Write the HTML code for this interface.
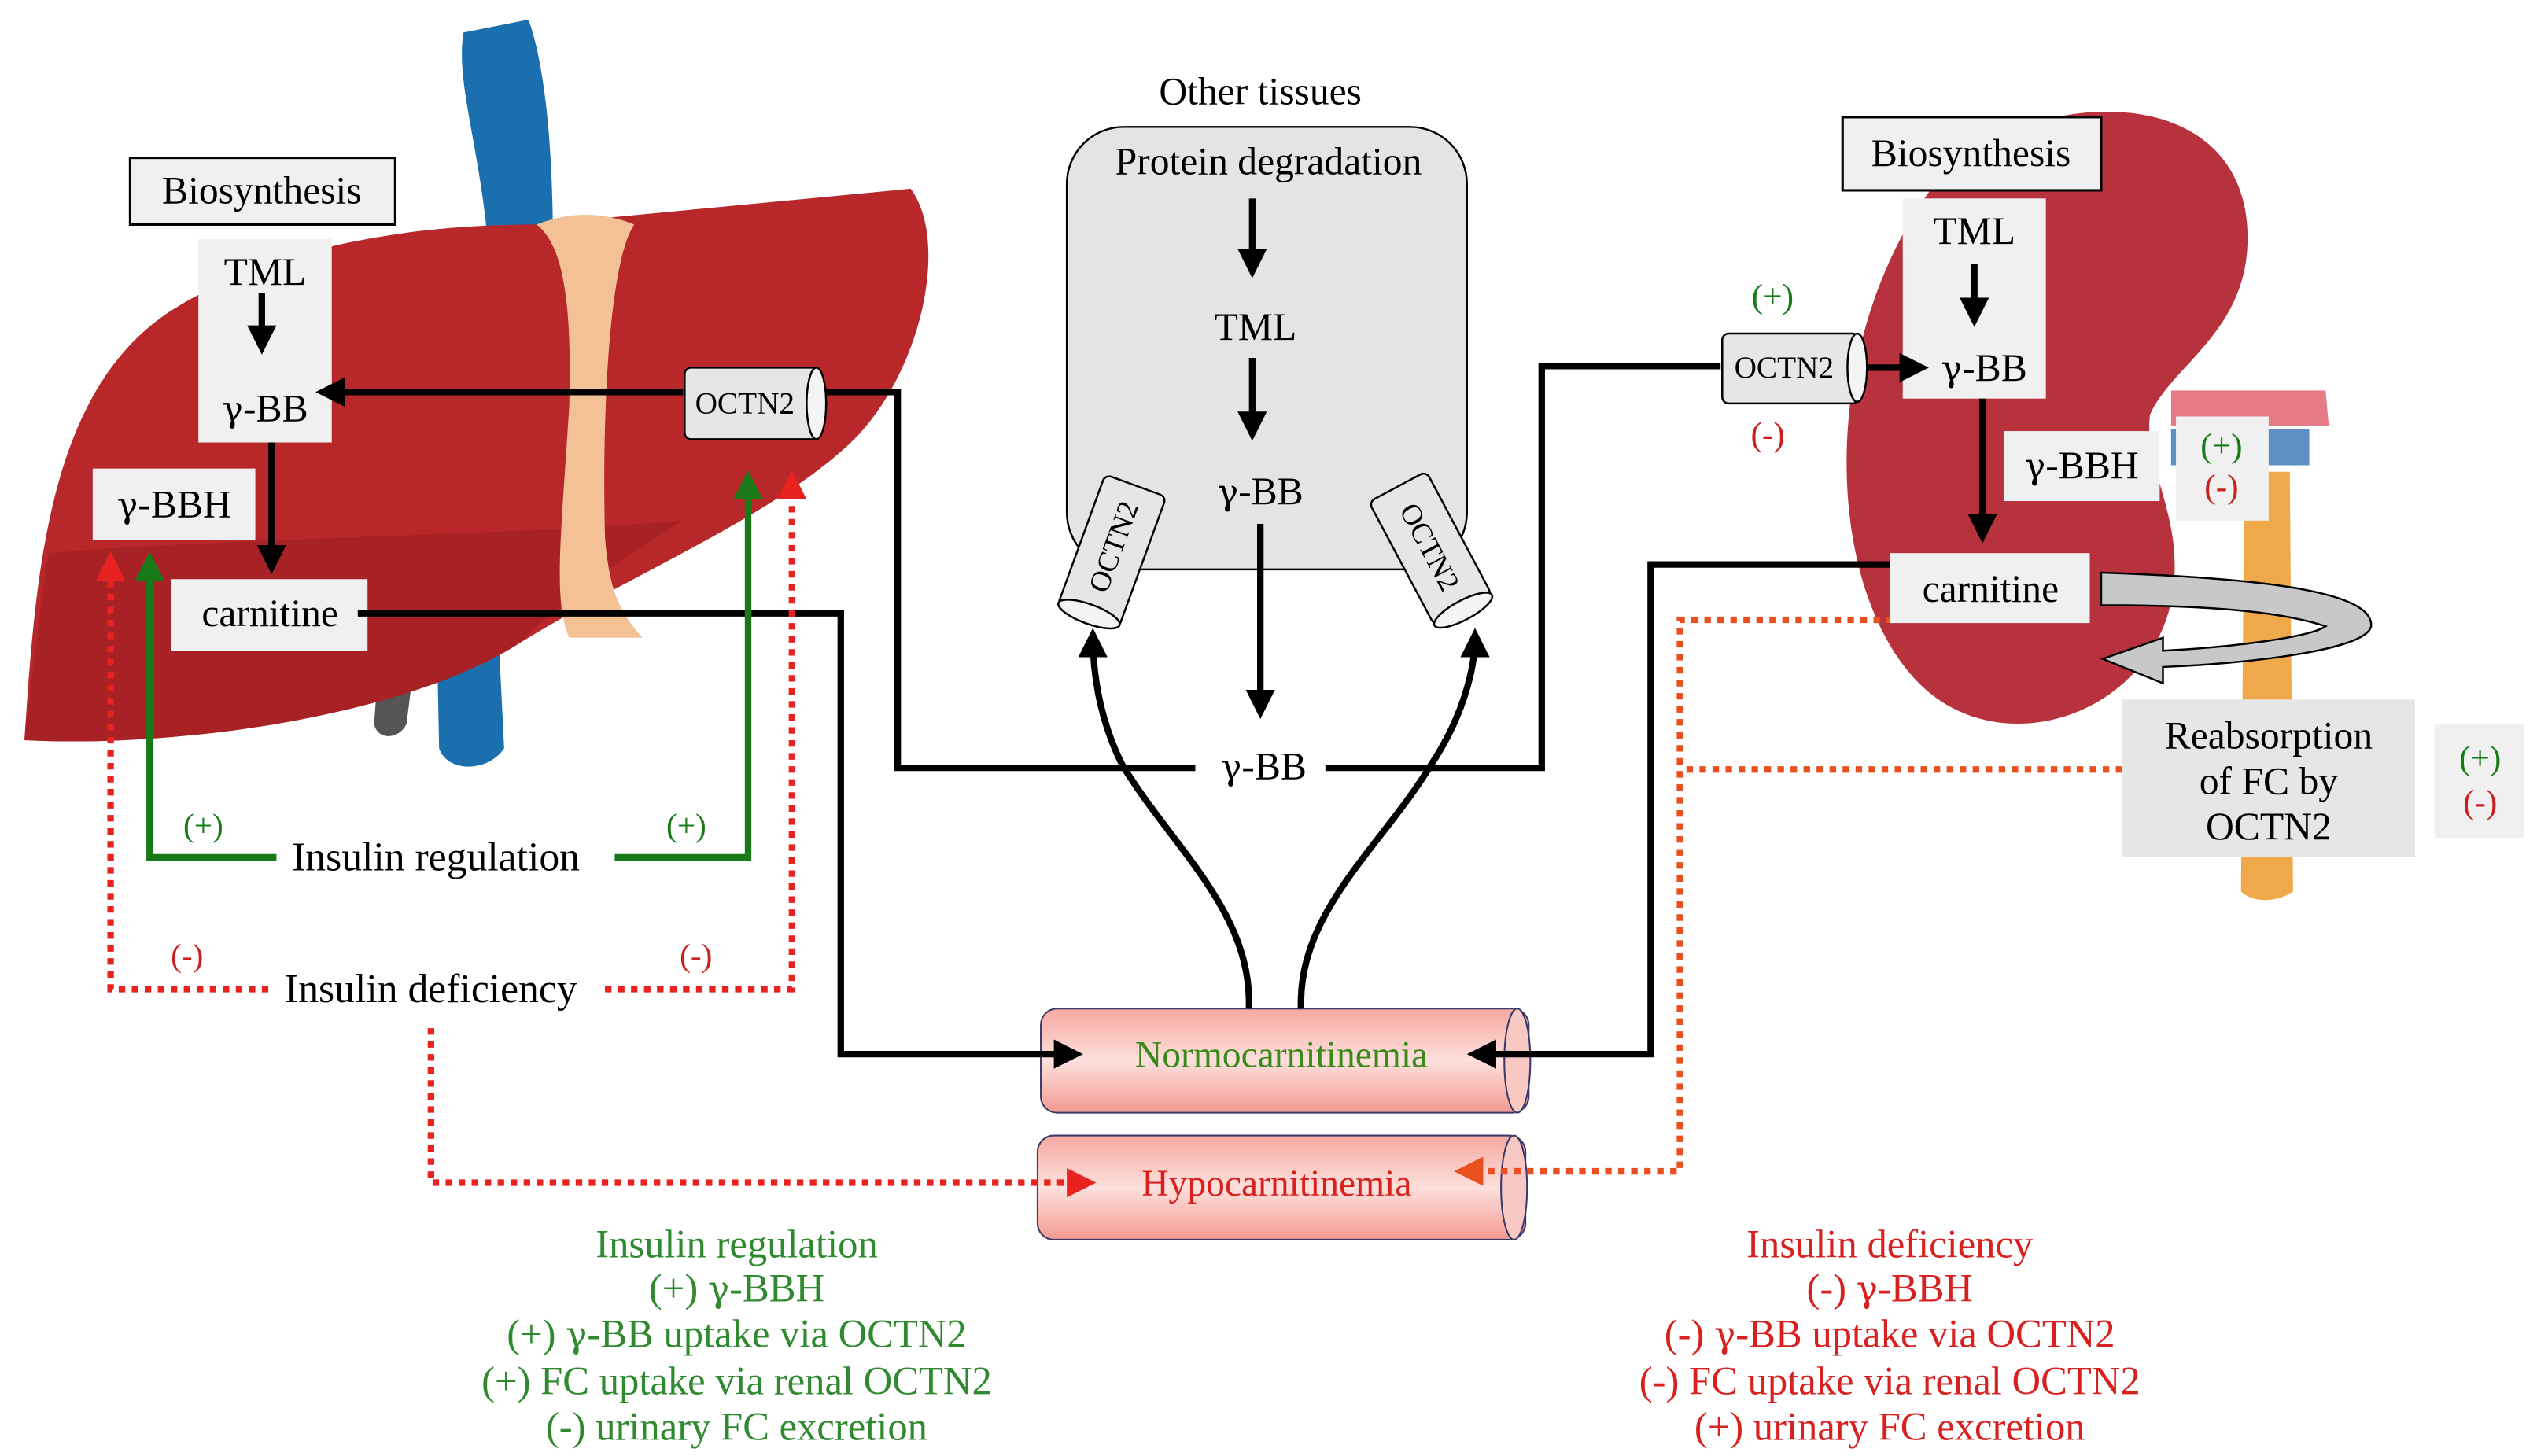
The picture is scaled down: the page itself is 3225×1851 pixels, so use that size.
<!DOCTYPE html>
<html><head><meta charset="utf-8"><style>html,body{margin:0;padding:0;background:#fff}svg{display:block}.g{font-family:"DejaVu Serif","Liberation Serif",serif;font-size:0.9em}</style></head><body>
<svg width="3225" height="1851" viewBox="0 0 1560 895" preserveAspectRatio="none" xmlns="http://www.w3.org/2000/svg" font-family="'Liberation Serif', serif">
<defs>
<marker id="ab" markerWidth="4.5" markerHeight="4.5" refX="3" refY="2.25" orient="auto" markerUnits="strokeWidth"><path d="M0,0 L4.5,2.25 L0,4.5 Z" fill="#000"/></marker>
<marker id="ag" markerWidth="4.5" markerHeight="4.5" refX="3" refY="2.25" orient="auto" markerUnits="strokeWidth"><path d="M0,0 L4.5,2.25 L0,4.5 Z" fill="#177a17"/></marker>
<marker id="ar" markerWidth="4.5" markerHeight="4.5" refX="3" refY="2.25" orient="auto" markerUnits="strokeWidth"><path d="M0,0 L4.5,2.25 L0,4.5 Z" fill="#e8231f"/></marker>
<marker id="ao" markerWidth="4.5" markerHeight="4.5" refX="3" refY="2.25" orient="auto" markerUnits="strokeWidth"><path d="M0,0 L4.5,2.25 L0,4.5 Z" fill="#e8501f"/></marker>
<linearGradient id="tube" x1="0" y1="0" x2="0" y2="1"><stop offset="0" stop-color="#f6a8a0"/><stop offset="0.5" stop-color="#fde0dc"/><stop offset="1" stop-color="#f39a92"/></linearGradient>
</defs>
<!-- liver vessels -->
<path d="M285,20 C280,50 295,90 300,150 L340,150 C340,90 335,40 325,12 Z" fill="#1c6fae"/>
<path d="M268,360 L305,360 L310,460 C300,475 275,475 270,460 Z" fill="#1c6fae"/>
<path d="M235,380 L258,380 L250,445 C245,455 232,455 230,445 Z" fill="#555"/>
<!-- liver -->
<path d="M15,455 C22,350 30,235 110,188 C170,152 250,138 330,138 L560,116 C585,150 565,235 520,275 C470,320 390,352 320,395 C250,440 110,460 15,455 Z" fill="#b8272a"/>
<path d="M15,455 C22,400 25,370 30,340 C150,330 300,330 420,320 C380,345 350,365 320,395 C250,440 110,460 15,455 Z" fill="#a82225"/>
<path d="M330,138 C350,130 370,130 390,138 C375,160 370,250 372,330 C375,370 385,380 395,392 L350,392 C340,370 345,330 350,250 C352,180 345,150 330,138 Z" fill="#f3c194"/>
<!-- kidney -->
<path d="M1335,240 L1430,240 L1432,262 L1335,262 Z" fill="#e57b86"/>
<path d="M1335,264 L1420,264 L1420,286 L1335,286 Z" fill="#5d8fc4"/>
<path d="M1380,290 L1408,290 L1410,548 C1400,555 1385,555 1378,548 Z" fill="#f0a94a"/>
<path d="M1200,100 C1270,50 1385,55 1382,150 C1380,205 1335,225 1322,255 C1318,290 1345,320 1335,370 C1320,440 1230,470 1180,420 C1120,360 1115,200 1200,100 Z" fill="#b7323c"/>
<!-- tubes -->
<rect x="640" y="620" width="300" height="64" rx="10" fill="url(#tube)" stroke="#3a3a6a" stroke-width="1"/>
<ellipse cx="933" cy="652" rx="8" ry="32" fill="#f8c8c2" stroke="#3a3a6a" stroke-width="1"/>
<text x="788" y="656" font-size="23" fill="#3a8a1a" text-anchor="middle">Normocarnitinemia</text>
<rect x="638" y="698" width="300" height="64" rx="10" fill="url(#tube)" stroke="#3a3a6a" stroke-width="1"/>
<ellipse cx="931" cy="730" rx="8" ry="32" fill="#f8c8c2" stroke="#3a3a6a" stroke-width="1"/>
<text x="785" y="735" font-size="23" fill="#d8201f" text-anchor="middle">Hypocarnitinemia</text>
<!-- liver boxes -->
<rect x="80" y="97" width="163" height="41" fill="#f0f0f0" stroke="#000" stroke-width="1.5"/>
<text x="161" y="125" font-size="24" text-anchor="middle">Biosynthesis</text>
<rect x="122" y="147" width="82" height="125" fill="#f0f0f0"/>
<text x="163" y="175" font-size="24" text-anchor="middle">TML</text>
<text x="163" y="259" font-size="24" text-anchor="middle"><tspan class="g">γ</tspan>-BB</text>
<line x1="161" y1="180" x2="161" y2="212" stroke="#000" stroke-width="4" marker-end="url(#ab)"/>
<rect x="57" y="288" width="100" height="44" fill="#f0f0f0"/>
<text x="107" y="318" font-size="24" text-anchor="middle"><tspan class="g">γ</tspan>-BBH</text>
<rect x="105" y="356" width="121" height="44" fill="#f0f0f0"/>
<text x="166" y="385" font-size="24" text-anchor="middle">carnitine</text>
<line x1="167" y1="272" x2="167" y2="347" stroke="#000" stroke-width="4" marker-end="url(#ab)"/>
<!-- liver OCTN2 -->
<rect x="421" y="226" width="84" height="44" rx="4" fill="#e6e6e6" stroke="#000" stroke-width="1.2"/>
<ellipse cx="502" cy="248" rx="6" ry="22" fill="#f4f4f4" stroke="#000" stroke-width="1.2"/>
<text x="458" y="254" font-size="19" text-anchor="middle">OCTN2</text>
<line x1="420" y1="241" x2="200" y2="241" stroke="#000" stroke-width="4" marker-end="url(#ab)"/>
<polyline points="508,241 552,241 552,472 735,472" fill="none" stroke="#000" stroke-width="4"/>
<polyline points="220,377 517,377 517,648 660,648" fill="none" stroke="#000" stroke-width="4" marker-end="url(#ab)"/>
<!-- green -->
<polyline points="170,527 92,527 92,345" fill="none" stroke="#177a17" stroke-width="4" marker-end="url(#ag)"/>
<polyline points="378,527 460,527 460,295" fill="none" stroke="#177a17" stroke-width="4" marker-end="url(#ag)"/>
<text x="125" y="514" font-size="20" fill="#177a17" text-anchor="middle">(+)</text>
<text x="422" y="514" font-size="20" fill="#177a17" text-anchor="middle">(+)</text>
<text x="268" y="535" font-size="25" text-anchor="middle">Insulin regulation</text>
<!-- red dotted -->
<polyline points="165,608 68,608 68,345" fill="none" stroke="#e8231f" stroke-width="4" stroke-dasharray="4,4" marker-end="url(#ar)"/>
<polyline points="372,608 487,608 487,295" fill="none" stroke="#e8231f" stroke-width="4" stroke-dasharray="4,4" marker-end="url(#ar)"/>
<text x="115" y="594" font-size="20" fill="#c8201f" text-anchor="middle">(-)</text>
<text x="428" y="594" font-size="20" fill="#c8201f" text-anchor="middle">(-)</text>
<text x="265" y="616" font-size="25" text-anchor="middle">Insulin deficiency</text>
<polyline points="265,632 265,727 668,727" fill="none" stroke="#e8231f" stroke-width="4" stroke-dasharray="4,4" marker-end="url(#ar)"/>
<!-- other tissues -->
<text x="775" y="64" font-size="24" text-anchor="middle">Other tissues</text>
<rect x="656" y="78" width="246" height="272" rx="35" fill="#e4e4e4" stroke="#000" stroke-width="1.2"/>
<text x="780" y="107" font-size="24" text-anchor="middle">Protein degradation</text>
<line x1="770" y1="122" x2="770" y2="165" stroke="#000" stroke-width="4" marker-end="url(#ab)"/>
<text x="772" y="209" font-size="24" text-anchor="middle">TML</text>
<line x1="770" y1="220" x2="770" y2="265" stroke="#000" stroke-width="4" marker-end="url(#ab)"/>
<text x="775" y="310" font-size="24" text-anchor="middle"><tspan class="g">γ</tspan>-BB</text>
<line x1="775" y1="322" x2="775" y2="436" stroke="#000" stroke-width="4" marker-end="url(#ab)"/>
<g transform="translate(684,338) rotate(-70)"><rect x="-44" y="-20" width="86" height="40" rx="4" fill="#e6e6e6" stroke="#000" stroke-width="1.2"/><ellipse cx="-42" cy="0" rx="6" ry="20" fill="#f4f4f4" stroke="#000" stroke-width="1.2"/><text x="2" y="6" font-size="18" text-anchor="middle">OCTN2</text></g>
<g transform="translate(880,338) rotate(62)"><rect x="-44" y="-20" width="86" height="40" rx="4" fill="#e6e6e6" stroke="#000" stroke-width="1.2"/><ellipse cx="42" cy="0" rx="6" ry="20" fill="#f4f4f4" stroke="#000" stroke-width="1.2"/><text x="-2" y="6" font-size="18" text-anchor="middle">OCTN2</text></g>
<text x="777" y="479" font-size="24" text-anchor="middle"><tspan class="g">γ</tspan>-BB</text>
<path d="M768,620 C770,560 720,520 690,470 C675,440 672,410 672,392" fill="none" stroke="#000" stroke-width="4" marker-end="url(#ab)"/>
<path d="M800,620 C798,560 850,520 880,470 C900,440 907,410 907,392" fill="none" stroke="#000" stroke-width="4" marker-end="url(#ab)"/>
<polyline points="815,472 948,472 948,225 1058,225" fill="none" stroke="#000" stroke-width="4"/>
<!-- kidney boxes -->
<rect x="1133" y="72" width="159" height="45" fill="#f0f0f0" stroke="#000" stroke-width="1.5"/>
<text x="1212" y="102" font-size="24" text-anchor="middle">Biosynthesis</text>
<rect x="1170" y="122" width="88" height="123" fill="#f0f0f0"/>
<text x="1214" y="150" font-size="24" text-anchor="middle">TML</text>
<text x="1220" y="234" font-size="24" text-anchor="middle"><tspan class="g">γ</tspan>-BB</text>
<line x1="1214" y1="162" x2="1214" y2="195" stroke="#000" stroke-width="4" marker-end="url(#ab)"/>
<line x1="1219" y1="245" x2="1219" y2="328" stroke="#000" stroke-width="4" marker-end="url(#ab)"/>
<rect x="1232" y="265" width="96" height="43" fill="#f0f0f0"/>
<text x="1280" y="294" font-size="24" text-anchor="middle"><tspan class="g">γ</tspan>-BBH</text>
<rect x="1338" y="256" width="57" height="64" fill="#f0f0f0"/>
<text x="1366" y="281" font-size="21" fill="#177a17" text-anchor="middle">(+)</text>
<text x="1366" y="306" font-size="21" fill="#c8201f" text-anchor="middle">(-)</text>
<rect x="1059" y="205" width="84" height="43" rx="4" fill="#e6e6e6" stroke="#000" stroke-width="1.2"/>
<ellipse cx="1142" cy="226" rx="6" ry="21" fill="#f4f4f4" stroke="#000" stroke-width="1.2"/>
<text x="1097" y="232" font-size="19" text-anchor="middle">OCTN2</text>
<line x1="1148" y1="226" x2="1180" y2="226" stroke="#000" stroke-width="4" marker-end="url(#ab)"/>
<text x="1090" y="189" font-size="21" fill="#177a17" text-anchor="middle">(+)</text>
<text x="1087" y="274" font-size="21" fill="#c8201f" text-anchor="middle">(-)</text>
<path d="M1292,352 C1380,355 1460,362 1458,385 C1455,400 1380,408 1330,410 L1330,420 L1293,405 L1330,392 L1330,400 C1370,398 1420,392 1430,385 C1400,375 1350,372 1292,372 Z" fill="#c8c8c8" stroke="#000" stroke-width="1.2"/>
<polyline points="1172,347 1015,347 1015,648 908,648" fill="none" stroke="#000" stroke-width="4" marker-end="url(#ab)"/>
<polyline points="1172,381 1033,381 1033,720 900,720" fill="none" stroke="#e8501f" stroke-width="4" stroke-dasharray="4,4" marker-end="url(#ao)"/>
<polyline points="1305,473 1033,473" fill="none" stroke="#e8501f" stroke-width="4" stroke-dasharray="4,4"/>
<rect x="1162" y="340" width="123" height="43" fill="#f0f0f0"/>
<text x="1224" y="370" font-size="24" text-anchor="middle">carnitine</text>
<rect x="1305" y="430" width="180" height="97" fill="#e6e6e6"/>
<text x="1395" y="460" font-size="24" text-anchor="middle">Reabsorption</text>
<text x="1395" y="488" font-size="24" text-anchor="middle">of FC by</text>
<text x="1395" y="516" font-size="24" text-anchor="middle">OCTN2</text>
<rect x="1497" y="445" width="55" height="70" fill="#f0f0f0"/>
<text x="1525" y="473" font-size="21" fill="#177a17" text-anchor="middle">(+)</text>
<text x="1525" y="500" font-size="21" fill="#c8201f" text-anchor="middle">(-)</text>
<!-- bottom texts -->
<g font-size="24.5" fill="#2f8a2f" text-anchor="middle">
<text x="453" y="773">Insulin regulation</text>
<text x="453" y="800">(+) <tspan class="g">γ</tspan>-BBH</text>
<text x="453" y="828">(+) <tspan class="g">γ</tspan>-BB uptake via OCTN2</text>
<text x="453" y="857">(+) FC uptake via renal OCTN2</text>
<text x="453" y="885">(-) urinary FC excretion</text>
</g>
<g font-size="24.5" fill="#d8201f" text-anchor="middle">
<text x="1162" y="773">Insulin deficiency</text>
<text x="1162" y="800">(-) <tspan class="g">γ</tspan>-BBH</text>
<text x="1162" y="828">(-) <tspan class="g">γ</tspan>-BB uptake via OCTN2</text>
<text x="1162" y="857">(-) FC uptake via renal OCTN2</text>
<text x="1162" y="885">(+) urinary FC excretion</text>
</g>
</svg>
</body></html>
